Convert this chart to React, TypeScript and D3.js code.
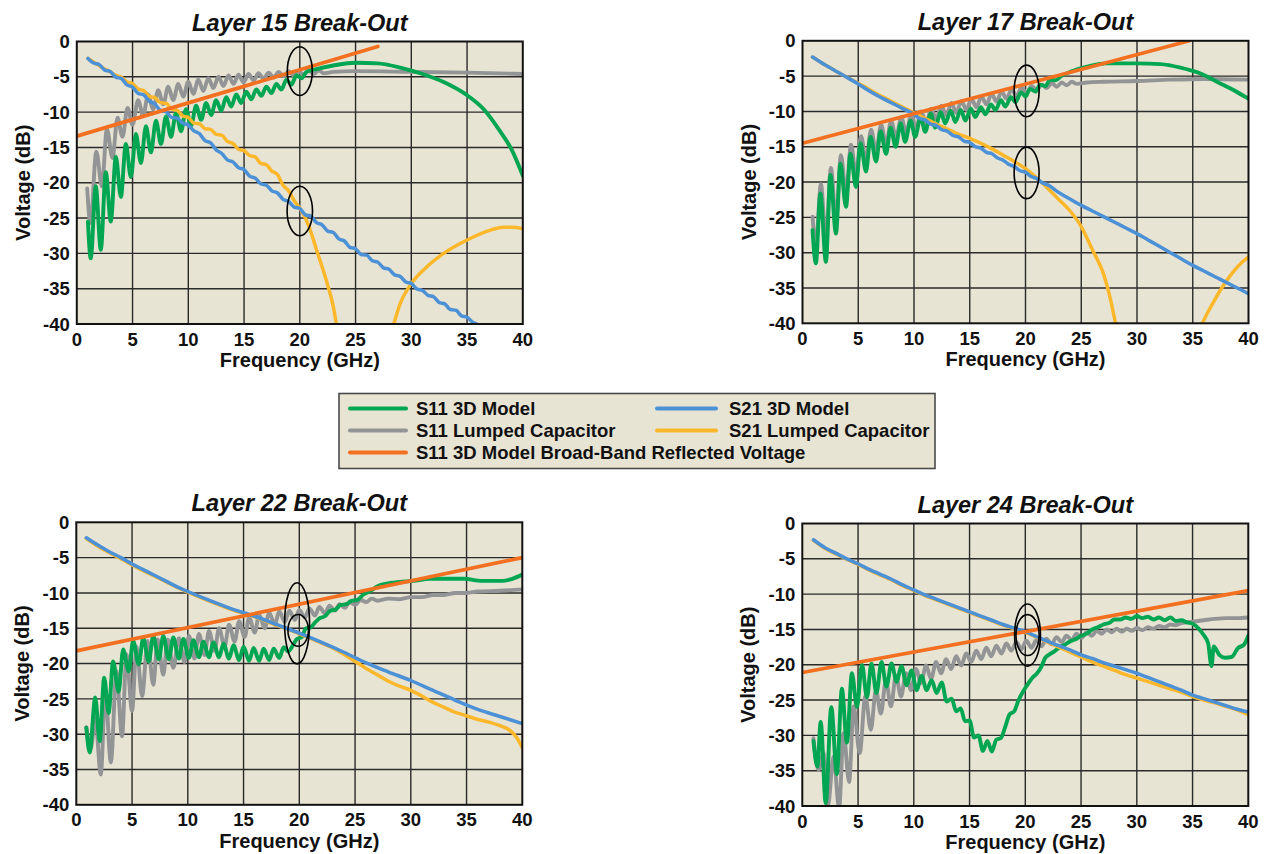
import React from 'react';
import * as d3 from 'd3';

type Pt = [number, number];

// ---------- shared axes ----------
const FREQ_TICKS = [0, 5, 10, 15, 20, 25, 30, 35, 40];
const VOLT_TICKS = [0, -5, -10, -15, -20, -25, -30, -35, -40];

// ---------- Layer 15 ----------
const L15_S11_3D: Pt[] = [
  [1.0, -25.5], [1.25, -30.7], [1.7, -20.5], [2.15, -29.5], [2.6, -18.5], [3.05, -25.5], [3.5, -16.3], [3.95, -22.0],
  [4.4, -14.5], [4.85, -19.2], [5.3, -13.1], [5.75, -17.2], [6.2, -12.0], [6.65, -15.7], [7.1, -11.2], [7.55, -14.5],
  [8.0, -10.6], [8.45, -13.5], [8.9, -10.1], [9.35, -12.7], [9.8, -9.6], [10.25, -11.9], [10.7, -9.1], [11.15, -11.1],
  [11.6, -8.7], [12.05, -10.4], [12.5, -8.3], [12.95, -9.8], [13.4, -7.9], [13.85, -9.2], [14.3, -7.5], [14.75, -8.7],
  [15.2, -7.1], [15.65, -8.2], [16.1, -6.8], [16.55, -7.7], [17.0, -6.4], [17.45, -7.3], [17.9, -6.0], [18.35, -6.8],
  [18.8, -5.4], [19.25, -6.1], [19.7, -4.8], [20.15, -5.2], [20.6, -4.3], [21.5, -3.9], [23, -3.4], [25, -3.0],
  [27, -3.1], [29, -3.7], [31, -4.6], [33, -5.8], [35, -7.6], [36.5, -9.6], [38, -12.8], [39, -15.3], [40, -19.0],
];
const L15_S11_LUMPED: Pt[] = [
  [0.93, -20.8], [1.23, -25.7], [1.75, -15.6], [2.25, -20.5], [2.7, -12.4], [3.2, -16.5], [3.65, -10.8], [4.1, -13.5],
  [4.55, -9.4], [5.0, -11.8], [5.5, -8.3], [5.95, -10.5], [6.4, -7.5], [6.85, -9.6], [7.3, -6.9], [7.75, -8.9],
  [8.2, -6.4], [8.65, -8.3], [9.1, -6.0], [9.55, -7.8], [10.0, -5.7], [10.45, -7.4], [10.9, -5.4], [11.35, -7.0],
  [11.8, -5.2], [12.25, -6.6], [12.7, -5.0], [13.15, -6.3], [13.6, -4.8], [14.05, -6.0], [14.5, -4.7], [14.95, -5.8],
  [15.4, -4.6], [15.85, -5.5], [16.3, -4.5], [16.75, -5.3], [17.2, -4.4], [17.65, -5.1], [18.1, -4.3], [18.55, -4.9],
  [19.0, -4.2], [19.45, -4.8], [19.9, -4.2], [20.35, -4.7], [20.8, -4.1], [21.25, -4.6], [21.7, -4.1], [22.15, -4.5],
  [23, -4.3], [25, -4.2], [30, -4.3], [35, -4.4], [40, -4.6],
];
const L15_S21_3D: Pt[] = [
  [1.0, -2.4], [1.5, -3.05], [2.0, -3.25], [2.5, -4.05], [3.0, -4.25], [3.5, -5.05], [4.0, -5.25], [4.5, -6.15],
  [5.0, -6.45], [5.5, -7.35], [6.0, -7.55], [6.5, -8.45], [7.0, -8.85], [7.5, -9.75], [8.0, -9.95], [8.5, -10.75],
  [9.0, -10.85], [9.5, -11.55], [10.0, -11.85], [10.5, -12.65], [11.0, -13.05], [11.5, -14.05], [12.0, -14.35],
  [12.5, -15.35], [13.0, -15.85], [13.5, -16.75], [14.0, -17.05], [14.5, -17.85], [15.0, -18.15], [15.5, -19.05],
  [16.0, -19.35], [16.5, -20.15], [17.0, -20.35], [17.5, -21.15], [18.0, -21.45], [18.5, -22.35], [19.0, -22.65],
  [19.5, -23.45], [20.0, -23.65], [20.5, -24.55], [21.0, -24.75], [21.5, -25.65], [22, -25.95], [22.5, -26.85],
  [23, -27.05], [23.5, -27.95], [24, -28.25], [24.5, -29.15], [25, -29.35], [25.5, -30.15], [26, -30.25], [26.5, -31.05],
  [27, -31.25], [27.5, -32.05], [28, -32.25], [28.5, -33.05], [29, -33.25], [29.5, -34.05], [30, -34.25], [30.5, -35.05],
  [31, -35.25], [31.5, -35.95], [32, -36.15], [32.5, -36.95], [33, -37.15], [33.5, -37.95], [34, -38.05], [34.5, -38.85],
  [35, -39.05], [35.5, -39.75], [36, -40.1],
];
const L15_S21_LUMPED_LOW: Pt[] = [
  [1.0, -2.4], [1.5, -2.9], [2.0, -3.4], [2.5, -3.9], [3.0, -4.3], [3.5, -4.8], [4.0, -5.05], [4.5, -5.75], [5.0, -5.95],
  [5.5, -6.75], [6.0, -6.95], [6.5, -7.75], [7.0, -7.95], [7.5, -8.65], [8.0, -8.75], [8.5, -9.55], [9.0, -9.75],
  [9.5, -10.55], [10.0, -10.75], [10.5, -11.55], [11.0, -11.65], [11.5, -12.35], [12.0, -12.45], [12.5, -13.15],
  [13.0, -13.25], [13.5, -14.15], [14.0, -14.45], [14.5, -15.25], [15.0, -15.45], [15.5, -16.15], [16.0, -16.35],
  [16.5, -17.25], [17.0, -17.45], [17.5, -18.35], [18.0, -18.85], [18.5, -20.35], [19.0, -21.15], [19.5, -22.55],
  [20.0, -23.6], [20.5, -25.0], [21.0, -27.0], [21.5, -29.5], [22.0, -31.9], [22.5, -34.5], [23.0, -37.5], [23.3, -40.2],
];
const L15_S21_LUMPED_HIGH: Pt[] = [
  [28.4, -40.2], [29.0, -37.1], [29.9, -34.5], [31.4, -31.9], [32.9, -30.0], [35.0, -28.1], [37.1, -26.7], [38.3, -26.3],
  [39.0, -26.3], [40, -26.5],
];
const L15_BROADBAND: Pt[] = [[0, -13.4], [27, -0.7]];
const L15_MARKERS = [
  { f: 20, v: -4.2, rf: 1.12, rv: 3.45 },
  { f: 20, v: -24.0, rf: 1.14, rv: 3.5 },
];

// ---------- Layer 17 ----------
const L17_S11_3D: Pt[] = [
  [0.9, -26.8], [1.2, -31.5], [1.6, -21.6], [2.1, -31.3], [2.5, -19.0], [3.0, -27.3], [3.4, -17.4], [3.9, -23.5],
  [4.3, -16.0], [4.8, -20.7], [5.2, -14.5], [5.7, -18.5], [6.1, -13.6], [6.6, -17.1], [7.0, -12.8], [7.5, -16.0],
  [7.9, -12.3], [8.35, -15.0], [8.8, -11.7], [9.2, -14.3], [9.7, -11.3], [10.1, -13.6], [10.6, -10.8], [11.0, -12.9],
  [11.5, -10.3], [11.9, -12.3], [12.4, -10.1], [12.8, -11.7], [13.3, -9.9], [13.7, -11.5], [14.2, -9.8], [14.6, -11.3],
  [15.1, -9.6], [15.5, -10.8], [16.0, -9.4], [16.4, -10.4], [16.9, -9.0], [17.3, -9.8], [17.8, -8.4], [18.2, -9.3],
  [18.7, -8.0], [19.1, -8.7], [19.6, -7.3], [20.0, -7.9], [20.4, -6.8], [20.9, -7.2], [21.3, -6.2], [21.8, -6.4],
  [22.2, -5.5], [22.7, -5.6], [23.2, -5.0], [24.2, -4.3], [25.7, -3.6], [27.2, -3.2], [30, -3.2], [32.1, -3.3],
  [33.9, -3.8], [35.8, -4.7], [37.3, -5.9], [38.8, -7.1], [40, -8.2],
];
const L17_S11_LUMPED: Pt[] = [
  [0.9, -24.9], [1.2, -29.0], [1.65, -20.3], [2.1, -28.5], [2.55, -18.0], [3.0, -25.5], [3.45, -16.2], [3.9, -21.8],
  [4.35, -14.7], [4.8, -19.0], [5.25, -13.5], [5.7, -17.0], [6.15, -12.6], [6.6, -15.6], [7.05, -11.9], [7.5, -14.6],
  [7.95, -11.3], [8.4, -13.8], [8.85, -10.8], [9.3, -13.1], [9.75, -10.4], [10.2, -12.3], [10.65, -10.0], [11.1, -11.7],
  [11.55, -9.6], [12.0, -11.1], [12.45, -9.2], [12.9, -10.6], [13.35, -8.8], [13.8, -10.2], [14.25, -8.5], [14.7, -9.8],
  [15.15, -8.2], [15.6, -9.4], [16.05, -7.9], [16.5, -9.0], [16.95, -7.5], [17.4, -8.6], [17.85, -7.2], [18.3, -8.2],
  [18.75, -6.9], [19.2, -7.8], [19.65, -6.6], [20.1, -7.4], [20.55, -6.4], [21.0, -7.0], [21.45, -6.2], [21.9, -6.7],
  [22.35, -6.0], [22.8, -6.5], [23.25, -5.9], [23.7, -6.3], [24.15, -5.8], [24.6, -6.1], [25.5, -5.9], [27, -5.8],
  [30, -5.7], [33, -5.5], [36, -5.4], [40, -5.5],
];
const L17_S21_3D: Pt[] = [
  [0.9, -2.3], [2, -3.4], [3, -4.3], [4, -5.2], [5, -6.1], [6, -7.1], [7, -8.0], [8, -8.8], [9, -9.6], [10, -10.4],
  [10.5, -11.0], [11, -11.2], [11.5, -11.8], [12, -12.0], [12.5, -12.6], [13, -12.8], [13.5, -13.4], [14, -13.6],
  [14.5, -14.2], [15, -14.4], [15.5, -15.0], [16, -15.2], [16.5, -15.8], [17, -16.0], [17.5, -16.6], [18, -16.9],
  [18.5, -17.5], [19, -17.8], [19.5, -18.4], [20, -18.6], [20.5, -19.2], [21, -19.5], [21.5, -20.1], [22, -20.4],
  [23, -21.5], [24, -22.4], [25, -23.3], [26, -24.1], [27, -24.9], [28, -25.7], [29, -26.5], [30, -27.3], [31, -28.2],
  [32, -29.1], [33, -30.0], [34, -30.9], [35, -31.8], [36, -32.6], [37, -33.4], [38, -34.2], [39, -35.0], [40, -35.8],
];
const L17_S21_LUMPED_LOW: Pt[] = [
  [0.9, -2.3], [2, -3.4], [3, -4.3], [4, -5.2], [5, -6.0], [6, -6.9], [7, -7.8], [8, -8.6], [9, -9.4], [10, -10.2],
  [11, -11.0], [12, -11.8], [13, -12.5], [14, -13.2], [15, -13.8], [16, -14.5], [17, -15.3], [18, -16.2], [19, -17.1],
  [20, -18.1], [21, -19.4], [22, -20.9], [23, -22.5], [24, -24.1], [25, -26.3], [26, -29.6], [27, -33.0], [27.5, -35.8],
  [28.1, -40.2],
];
const L17_S21_LUMPED_HIGH: Pt[] = [
  [35.8, -40.2], [36.4, -38.3], [37, -36.6], [37.6, -35.0], [38.2, -33.6], [38.8, -32.4], [39.4, -31.4], [40, -30.6],
];
const L17_BROADBAND: Pt[] = [[0, -14.5], [34.7, 0]];
const L17_MARKERS = [
  { f: 20.1, v: -7.1, rf: 1.12, rv: 3.65 },
  { f: 20.1, v: -18.7, rf: 1.12, rv: 3.65 },
];

// ---------- Layer 22 ----------
const L22_S11_3D: Pt[] = [
  [0.9, -29.1], [1.2, -32.6], [1.7, -24.8], [2.1, -31.0], [2.5, -22.0], [2.9, -27.0], [3.3, -19.7], [3.8, -24.0],
  [4.2, -18.0], [4.7, -21.1], [5.1, -16.8], [5.6, -20.1], [6.0, -16.4], [6.5, -19.7], [6.9, -16.1], [7.4, -19.4],
  [7.8, -16.1], [8.3, -19.4], [8.7, -16.3], [9.2, -19.3], [9.6, -16.5], [10.1, -19.2], [10.5, -16.7], [11.0, -19.1],
  [11.4, -16.9], [11.9, -19.1], [12.3, -17.0], [12.8, -19.1], [13.2, -17.2], [13.7, -19.3], [14.1, -17.4], [14.6, -19.5],
  [15.0, -17.6], [15.5, -19.6], [15.9, -17.8], [16.4, -19.6], [16.8, -17.9], [17.3, -19.5], [17.7, -17.9], [18.2, -19.2],
  [18.6, -17.7], [19.0, -18.3], [19.5, -17.2], [19.8, -16.5], [20.2, -16.3], [20.6, -15.0], [21.0, -14.9], [21.4, -14.2],
  [21.8, -13.6], [22.3, -13.3], [22.8, -12.5], [23.2, -12.4], [23.7, -11.7], [24.2, -11.6], [24.7, -11.1], [25.2, -11.0],
  [25.7, -10.3], [26.3, -9.8], [27.1, -9.0], [28.6, -8.5], [30.2, -8.3], [31.7, -8.0], [33.2, -8.0], [34.8, -8.0],
  [36.3, -8.3], [38.2, -8.3], [39.1, -8.0], [40, -7.4],
];
const L22_S11_LUMPED: Pt[] = [
  [0.9, -29.0], [1.3, -32.0], [1.7, -27.7], [2.2, -35.7], [2.6, -23.9], [3.1, -34.0], [3.6, -21.1], [4.1, -30.3],
  [4.5, -18.7], [5.0, -26.7], [5.4, -17.6], [5.9, -24.6], [6.4, -16.8], [6.9, -23.0], [7.3, -16.6], [7.8, -21.6],
  [8.2, -16.6], [8.7, -20.6], [9.2, -16.4], [9.7, -19.8], [10.1, -16.1], [10.6, -19.3], [11.0, -15.8], [11.5, -18.8],
  [11.9, -15.4], [12.4, -18.2], [12.8, -15.0], [13.3, -17.6], [13.7, -14.5], [14.2, -16.9], [14.6, -14.0], [15.1, -16.2],
  [15.5, -13.5], [16.0, -15.6], [16.4, -13.1], [16.9, -15.0], [17.3, -12.8], [17.8, -14.5], [18.2, -12.6], [18.7, -14.1],
  [19.1, -12.5], [19.6, -13.8], [20.0, -12.4], [20.5, -13.5], [20.9, -12.2], [21.4, -13.2], [21.8, -12.0], [22.3, -12.9],
  [22.7, -11.8], [23.2, -12.5], [23.6, -11.6], [24.1, -12.1], [24.5, -11.3], [25.0, -11.7], [25.5, -11.0], [26, -11.3],
  [26.5, -10.8], [27, -11.1], [28, -10.8], [29, -10.9], [30, -10.6], [31, -10.6], [32, -10.3], [33, -10.3], [34, -10.0],
  [35, -10.0], [36, -9.8], [38, -9.7], [40, -9.5],
];
const L22_S21_3D: Pt[] = [
  [0.9, -2.2], [2, -3.3], [3, -4.2], [4, -5.0], [5, -5.9], [6, -6.7], [7, -7.5], [8, -8.3], [9, -9.1], [10, -9.8],
  [12, -11.1], [14, -12.3], [16, -13.3], [18, -14.5], [20, -15.7], [22, -17.0], [24, -18.4], [26, -19.9], [28, -21.2],
  [30, -22.4], [32, -23.8], [34, -25.2], [36, -26.5], [38, -27.5], [40, -28.5],
];
const L22_S21_LUMPED: Pt[] = [
  [0.9, -2.3], [2, -3.45], [3, -4.35], [4, -5.15], [5, -6.05], [6, -6.85], [7, -7.6], [8, -8.4], [9, -9.2], [10, -9.9],
  [12, -11.2], [14, -12.4], [16, -13.4], [18, -14.6], [20, -15.8], [22, -17.1], [23, -17.8], [24, -18.7], [25, -19.7],
  [26, -20.7], [27, -21.6], [28, -22.5], [29, -23.2], [30, -23.8], [31, -24.6], [32, -25.5], [33, -26.2], [34, -26.9],
  [35, -27.4], [36, -27.9], [37, -28.3], [38, -28.8], [39, -29.6], [39.5, -30.5], [40, -31.9],
];
const L22_BROADBAND: Pt[] = [[0, -18.2], [40, -5.0]];
const L22_MARKERS = [
  { f: 19.8, v: -14.3, rf: 1.12, rv: 5.75 },
  { f: 19.9, v: -15.3, rf: 0.92, rv: 2.25 },
];

// ---------- Layer 24 ----------
const L24_S11_3D: Pt[] = [
  [1.0, -30.8], [1.35, -34.4], [1.65, -28.1], [2.1, -39.6], [2.6, -26.0], [3.1, -35.5], [3.55, -23.4], [4.0, -31.0],
  [4.45, -21.2], [4.9, -26.0], [5.35, -20.0], [5.8, -24.6], [6.2, -19.8], [6.65, -24.0], [7.1, -19.6], [7.55, -23.1],
  [8.0, -19.8], [8.45, -22.4], [8.9, -20.2], [9.35, -22.9], [9.8, -20.8], [10.25, -23.6], [10.7, -21.6], [11.15, -23.6],
  [11.6, -22.2], [12.05, -24.0], [12.5, -22.5], [12.95, -25.2], [13.4, -24.8], [13.8, -26.6], [14.2, -26.2], [14.6, -28.0],
  [15.0, -27.9], [15.4, -30.3], [15.8, -30.0], [16.2, -32.2], [16.6, -30.8], [17.0, -32.3], [17.4, -30.6], [17.8, -30.4],
  [18.2, -28.8], [18.6, -27.0], [19.0, -26.6], [19.4, -25.0], [19.8, -23.8], [20.2, -22.8], [20.6, -21.9], [21.0, -21.3],
  [21.4, -20.4], [21.8, -19.0], [22.2, -18.5], [22.6, -18.1], [23.0, -17.6], [23.5, -17.2], [24.0, -16.7], [24.5, -16.4],
  [25.0, -15.9], [25.5, -15.6], [26.0, -15.0], [26.5, -14.7], [27.0, -14.3], [27.5, -14.1], [28.0, -13.6], [28.5, -13.6],
  [29.0, -13.3], [29.5, -13.5], [30.0, -13.1], [30.5, -13.4], [31.0, -13.2], [31.5, -13.6], [32.0, -13.3], [32.5, -13.7],
  [33.0, -13.3], [33.5, -13.8], [34.0, -13.7], [34.5, -14.0], [35.0, -14.2], [35.5, -14.8], [36.0, -15.8], [36.4, -17.0],
  [36.7, -20.2], [36.9, -17.4], [37.4, -18.6], [37.9, -19.0], [38.5, -18.9], [39.1, -17.6], [39.6, -17.2], [40, -15.9],
];
const L24_S11_LUMPED: Pt[] = [
  [1.0, -30.4], [1.45, -34.9], [1.9, -32.5], [2.3, -39.9], [2.8, -33.0], [3.3, -40.3], [3.7, -29.7], [4.2, -36.6],
  [4.6, -25.9], [5.15, -32.5], [5.65, -24.5], [6.15, -29.2], [6.6, -23.6], [7.05, -26.9], [7.5, -22.2], [7.95, -25.9],
  [8.4, -21.5], [8.85, -24.5], [9.3, -21.2], [9.75, -23.6], [10.2, -20.6], [10.65, -22.6], [11.1, -20.1], [11.55, -22.0],
  [12.0, -19.6], [12.45, -21.2], [12.9, -19.2], [13.35, -20.6], [13.8, -18.8], [14.25, -20.1], [14.7, -18.4], [15.15, -19.6],
  [15.6, -18.0], [16.05, -19.2], [16.5, -17.6], [16.95, -18.8], [17.4, -17.3], [17.85, -18.4], [18.3, -17.0], [18.75, -18.0],
  [19.2, -16.8], [19.65, -17.8], [20.1, -16.6], [20.55, -17.6], [21.0, -16.5], [21.45, -17.4], [21.9, -16.3], [22.35, -17.1],
  [22.8, -16.1], [23.25, -16.8], [23.7, -15.9], [24.15, -16.5], [24.6, -15.6], [25.05, -16.2], [25.5, -15.4], [25.95, -15.9],
  [26.4, -15.2], [26.85, -15.6], [27.3, -15.0], [27.75, -15.4], [28.2, -14.9], [28.65, -15.3], [29.1, -14.9], [29.55, -15.2],
  [30.0, -14.8], [30.5, -15.1], [31, -14.7], [31.5, -14.9], [32, -14.5], [32.5, -14.7], [33, -14.3], [33.5, -14.4],
  [34, -14.1], [35, -13.9], [36, -13.7], [37, -13.5], [38, -13.4], [39, -13.4], [40, -13.3],
];
const L24_S21_3D: Pt[] = [
  [1, -2.3], [2, -3.4], [3, -4.2], [4, -5.0], [5, -5.7], [6, -6.5], [7, -7.2], [8, -7.9], [9, -8.7], [10, -9.4],
  [11, -10.1], [12, -10.7], [13, -11.3], [14, -11.9], [15, -12.5], [16, -13.1], [17, -13.7], [18, -14.3], [19, -14.8],
  [20, -15.3], [21, -16.0], [22, -16.7], [23, -17.3], [24, -17.9], [25, -18.6], [26, -19.1], [27, -19.7], [28, -20.2],
  [29, -20.7], [30, -21.2], [31, -21.8], [32, -22.4], [33, -23.0], [34, -23.6], [35, -24.3], [36, -24.8], [37, -25.3],
  [38, -25.8], [39, -26.3], [40, -26.7],
];
const L24_S21_LUMPED: Pt[] = [
  [1, -2.4], [2, -3.5], [3, -4.3], [4, -5.1], [5, -5.8], [6, -6.6], [7, -7.3], [8, -8.0], [9, -8.8], [10, -9.5],
  [11, -10.2], [12, -10.8], [13, -11.4], [14, -12.0], [15, -12.6], [16, -13.2], [17, -13.8], [18, -14.4], [19, -14.9],
  [20, -15.4], [21, -16.1], [22, -16.8], [23, -17.5], [24, -18.2], [25, -18.9], [26, -19.6], [27, -20.2], [28, -20.8],
  [29, -21.4], [30, -21.9], [31, -22.4], [32, -22.9], [33, -23.4], [34, -23.9], [35, -24.5], [36, -25.0], [37, -25.4],
  [38, -25.9], [39, -26.4], [40, -27.1],
];
const L24_BROADBAND: Pt[] = [[0, -21.1], [40, -9.5]];
const L24_MARKERS = [
  { f: 20.2, v: -15.8, rf: 1.16, rv: 4.4 },
  { f: 20.2, v: -15.8, rf: 1.04, rv: 2.9 },
];

// ---------- legend ----------
const LEGEND_LABELS = {
  s11: 'S11 3D Model',
  s11l: 'S11 Lumped Capacitor',
  s21: 'S21 3D Model',
  s21l: 'S21 Lumped Capacitor',
  bb: 'S11 3D Model Broad-Band Reflected Voltage',
};

// ---------- styling ----------
const COLORS = {
  s11: '#00a651',
  s11l: '#939496',
  s21: '#4c90d6',
  s21l: '#fdb72a',
  bb: '#f37021',
  plotBg: '#e7e4d4',
  grid: '#2a2a2a',
};
const FONT = '"Liberation Sans", Arial, Helvetica, sans-serif';

type PanelData = {
  title: string;
  s11: Pt[];
  s11l: Pt[];
  s21: Pt[];
  s21l: Pt[][];
  bb: Pt[];
  markers: { f: number; v: number; rf: number; rv: number }[];
};

const PANELS: PanelData[] = [
  { title: 'Layer 15 Break-Out', s11: L15_S11_3D, s11l: L15_S11_LUMPED, s21: L15_S21_3D, s21l: [L15_S21_LUMPED_LOW, L15_S21_LUMPED_HIGH], bb: L15_BROADBAND, markers: L15_MARKERS },
  { title: 'Layer 17 Break-Out', s11: L17_S11_3D, s11l: L17_S11_LUMPED, s21: L17_S21_3D, s21l: [L17_S21_LUMPED_LOW, L17_S21_LUMPED_HIGH], bb: L17_BROADBAND, markers: L17_MARKERS },
  { title: 'Layer 22 Break-Out', s11: L22_S11_3D, s11l: L22_S11_LUMPED, s21: L22_S21_3D, s21l: [L22_S21_LUMPED], bb: L22_BROADBAND, markers: L22_MARKERS },
  { title: 'Layer 24 Break-Out', s11: L24_S11_3D, s11l: L24_S11_LUMPED, s21: L24_S21_3D, s21l: [L24_S21_LUMPED], bb: L24_BROADBAND, markers: L24_MARKERS },
];

// plot-area frames for the 2x2 grid
const PLOT_W = 446;
const PLOT_H = 282.5;
const FRAMES = [
  { x: 76.8, y: 41.5 },
  { x: 802.5, y: 40.8 },
  { x: 76.3, y: 522.3 },
  { x: 802.3, y: 523.5 },
];

function Panel({ data, frame, idx }: { data: PanelData; frame: { x: number; y: number }; idx: number }) {
  const x = d3.scaleLinear().domain([0, 40]).range([frame.x, frame.x + PLOT_W]);
  const y = d3.scaleLinear().domain([-40, 0]).range([frame.y + PLOT_H, frame.y]);
  const wavy = d3.line<Pt>().x((d) => x(d[0])).y((d) => y(d[1])).curve(d3.curveMonotoneX);
  const straight = d3.line<Pt>().x((d) => x(d[0])).y((d) => y(d[1]));
  const clipId = `plot-clip-${idx}`;
  const x0 = frame.x;
  const x1 = frame.x + PLOT_W;
  const y0 = frame.y;
  const y1 = frame.y + PLOT_H;
  const cx = (x0 + x1) / 2;
  const cy = (y0 + y1) / 2;

  return (
    <g>
      <defs>
        <clipPath id={clipId}>
          <rect x={x0} y={y0} width={PLOT_W} height={PLOT_H} />
        </clipPath>
      </defs>
      <rect x={x0} y={y0} width={PLOT_W} height={PLOT_H} fill={COLORS.plotBg} />
      {FREQ_TICKS.slice(1, -1).map((t) => (
        <line key={`gx${t}`} x1={x(t)} x2={x(t)} y1={y0} y2={y1} stroke={COLORS.grid} strokeWidth={1.4} />
      ))}
      {VOLT_TICKS.slice(1, -1).map((t) => (
        <line key={`gy${t}`} x1={x0} x2={x1} y1={y(t)} y2={y(t)} stroke={COLORS.grid} strokeWidth={1.4} />
      ))}
      <g clipPath={`url(#${clipId})`} fill="none" strokeLinejoin="round" strokeLinecap="round">
        <path d={wavy(data.s11l) || ''} stroke={COLORS.s11l} strokeWidth={3.9} />
        <path d={wavy(data.s11) || ''} stroke={COLORS.s11} strokeWidth={3.9} />
        {data.s21l.map((seg, i) => (
          <path key={i} d={wavy(seg) || ''} stroke={COLORS.s21l} strokeWidth={3.5} />
        ))}
        <path d={wavy(data.s21) || ''} stroke={COLORS.s21} strokeWidth={3.5} />
        <path d={straight(data.bb) || ''} stroke={COLORS.bb} strokeWidth={3.7} />
      </g>
      {data.markers.map((m, i) => (
        <ellipse
          key={`m${i}`}
          cx={x(m.f)}
          cy={y(m.v)}
          rx={x(m.f + m.rf) - x(m.f)}
          ry={y(m.v - m.rv) - y(m.v)}
          fill="none"
          stroke="#000"
          strokeWidth={1.6}
        />
      ))}
      <rect x={x0} y={y0} width={PLOT_W} height={PLOT_H} fill="none" stroke="#111" strokeWidth={2} />
      <g fontFamily={FONT} fontWeight="bold" fill="#111">
        <text x={cx} y={y0 - 11} textAnchor="middle" fontSize={23.5} fontStyle="italic">
          {data.title}
        </text>
        {VOLT_TICKS.map((t) => (
          <text key={`ly${t}`} x={x0 - 7} y={y(t)} dy="0.36em" textAnchor="end" fontSize={18.5}>
            {t}
          </text>
        ))}
        {FREQ_TICKS.map((t) => (
          <text key={`lx${t}`} x={x(t)} y={y1 + 21.5} textAnchor="middle" fontSize={18.5}>
            {t}
          </text>
        ))}
        <text x={cx} y={y1 + 43} textAnchor="middle" fontSize={20}>
          Frequency (GHz)
        </text>
        <text transform={`translate(${x0 - 47},${cy}) rotate(-90)`} textAnchor="middle" fontSize={20}>
          Voltage (dB)
        </text>
      </g>
    </g>
  );
}

function Legend() {
  const box = { x: 339, y: 393.5, w: 596, h: 75 };
  const rows = [408.5, 430.5, 452.5];
  const cols = [
    { lx1: 350, lx2: 406, tx: 416 },
    { lx1: 657, lx2: 716, tx: 729 },
  ];
  const items = [
    { key: 's11', col: 0, row: 0 },
    { key: 's11l', col: 0, row: 1 },
    { key: 'bb', col: 0, row: 2 },
    { key: 's21', col: 1, row: 0 },
    { key: 's21l', col: 1, row: 1 },
  ] as const;
  return (
    <g>
      <rect x={box.x} y={box.y} width={box.w} height={box.h} fill={COLORS.plotBg} stroke="#4a4a4a" strokeWidth={1.6} />
      {items.map((it) => {
        const c = cols[it.col];
        const ry = rows[it.row];
        return (
          <g key={it.key}>
            <line x1={c.lx1} x2={c.lx2} y1={ry} y2={ry} stroke={COLORS[it.key]} strokeWidth={4} strokeLinecap="round" />
            <text x={c.tx} y={ry} dy="0.36em" fontFamily={FONT} fontWeight="bold" fontSize={18.5} fill="#111">
              {LEGEND_LABELS[it.key]}
            </text>
          </g>
        );
      })}
    </g>
  );
}

export default function App() {
  return (
    <svg
      width={1267}
      height={854}
      viewBox="0 0 1267 854"
      style={{ position: 'absolute', left: 0, top: 0, background: '#fff' }}
    >
      <rect width={1267} height={854} fill="#fff" />
      {PANELS.map((p, i) => (
        <Panel key={p.title} data={p} frame={FRAMES[i]} idx={i} />
      ))}
      <Legend />
    </svg>
  );
}
